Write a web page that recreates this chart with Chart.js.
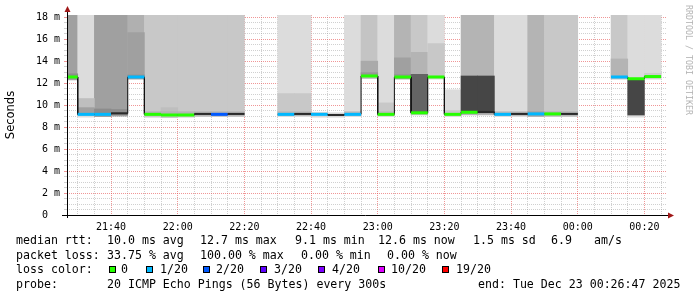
<!DOCTYPE html>
<html>
<head>
<meta charset="UTF-8">
<title>SmokePing</title>
<style>
  body { margin: 0; background: #fff; }
  #wrap { position: relative; width: 697px; height: 297px; overflow: hidden; }
  #chart { position: absolute; left: 0; top: 0; }
  .t { position: absolute; font-family: "DejaVu Sans Mono", monospace; font-size: 11.6px; line-height: 14px; white-space: pre; color: #000; }
  .box { position: absolute; width: 7px; height: 7px; box-sizing: border-box; border: 1px solid #000; }
  #wm { position: absolute; left: 693px; top: 5px; transform: rotate(90deg); transform-origin: left top;
        font-family: "DejaVu Sans Mono", monospace; font-size: 8.3px; line-height: 8px; color: #b4b4b4; white-space: pre; }
</style>
<script src="https://cdn.jsdelivr.net/npm/chart.js/dist/chart.umd.min.js"></script>
</head>
<body>
<div id="wrap">
  <canvas id="chart" width="697" height="297"></canvas>
  <div id="wm">RRDTOOL / TOBI OETIKER</div>

  <div class="t" style="left:16px;top:233px">median rtt:</div>
  <div class="t" style="left:107px;top:233px">10.0 ms avg</div>
  <div class="t" style="left:200px;top:233px">12.7 ms max</div>
  <div class="t" style="left:295px;top:233px">9.1 ms min</div>
  <div class="t" style="left:378px;top:233px">12.6 ms now</div>
  <div class="t" style="left:473px;top:233px">1.5 ms sd</div>
  <div class="t" style="left:551px;top:233px">6.9</div>
  <div class="t" style="left:594px;top:233px">am/s</div>

  <div class="t" style="left:16px;top:248px">packet loss:</div>
  <div class="t" style="left:107px;top:248px">33.75 % avg</div>
  <div class="t" style="left:200px;top:248px">100.00 % max</div>
  <div class="t" style="left:301px;top:248px">0.00 % min</div>
  <div class="t" style="left:387px;top:248px">0.00 % now</div>

  <div class="t" style="left:16px;top:262px">loss color:</div>
  <div id="lossKey"></div>

  <div class="t" style="left:16px;top:277px">probe:</div>
  <div class="t" style="left:107px;top:277px">20 ICMP Echo Pings (56 Bytes) every 300s</div>
  <div class="t" style="left:478px;top:277px">end: Tue Dec 23 00:26:47 2025</div>
</div>

<script>
  // ---- data (values in ms) ----
  // each 5 minute step, by its start time
  const stepStart = ['21:25','21:30','21:35','21:40','21:45','21:50','21:55','22:00','22:05','22:10',
                     '22:15','22:20','22:25','22:30','22:35','22:40','22:45','22:50','22:55','23:00',
                     '23:05','23:10','23:15','23:20','23:25','23:30','23:35','23:40','23:45','23:50',
                     '23:55','00:00','00:05','00:10','00:15','00:20','00:25'];

  // median rtt per step (null = no data)
  const medianRtt = [12.56, 9.16, 9.16, 9.25, 12.56, 9.16, 9.10, 9.10, 9.20, 9.16,
                     9.20, null, null, 9.16, 9.20, 9.16, 9.10, 9.16, 12.65, 9.16,
                     12.56, 9.30, 12.56, 9.16, 9.35, 9.38, 9.16, 9.20, 9.20, 9.20,
                     9.20, null, null, 12.56, 12.40, 12.60, null];

  // lost pings out of 20 per step (-1 = median drawn dark grey)
  const lostPings = [0, 1, 1, -1, 1, 0, 0, 0, -1, 2,
                     -1, null, null, 1, -1, 1, -1, 1, 0, 0,
                     0, 0, 0, 0, 0, -1, 1, -1, 1, 0,
                     -1, null, null, 1, 0, 0, null];

  // smoke: outer, middle and core bands [low, high]; 19 = above the top of the graph
  const smokeOuter = [[12.30,19],[8.90,19],[8.95,19],[9.00,19],[12.35,19],[8.90,19],[8.85,19],[8.90,19],[8.95,19],[8.95,19],
                      [8.95,19],null,null,[8.95,19],[8.95,19],[8.90,9.35],[8.90,9.30],[8.95,19],[12.40,19],[8.95,19],
                      [12.35,19],[9.10,19],[12.35,19],[8.95,11.40],[9.10,19],[9.10,19],[8.95,19],[8.95,19],[8.95,19],[8.95,19],
                      [8.95,19],null,null,[12.35,19],[8.90,19],[12.35,19],null];
  const shadeOuter = [160,220,160,160,176,200,200,200,200,200,
                      200,null,null,220,220,215,215,220,196,220,
                      180,200,220,220,180,180,220,220,180,200,
                      200,null,null,200,220,220,null];

  const smokeMiddle = [null,[9.10,10.60],null,null,[12.40,16.60],null,[9.05,9.77],null,null,null,
                       null,null,null,[9.05,11.05],[9.05,11.05],null,null,null,[12.55,14.00],[9.05,10.20],
                       [12.45,14.30],[9.20,14.80],[12.45,15.60],[9.05,9.50],null,null,null,null,null,null,
                       null,null,null,[12.45,14.20],null,[12.45,12.90],null];
  const shadeMiddle = [null,190,null,null,160,null,190,null,null,null,
                       null,null,null,200,200,null,null,null,170,200,
                       160,180,200,200,null,null,null,null,null,null,
                       null,null,null,180,null,205,null];

  const smokeCore = [[12.45,12.85],[9.10,9.77],[9.10,9.65],[9.15,9.60],[12.45,12.75],[9.05,9.40],[9.05,9.40],[9.05,9.40],[9.05,9.40],[9.05,9.40],
                     [9.05,9.40],null,null,[9.05,9.40],[9.05,9.40],null,null,[9.05,9.40],[12.60,12.95],[9.05,9.40],
                     [12.45,12.80],[9.25,12.80],null,null,[9.30,12.65],[9.30,12.65],[9.05,9.40],[9.05,9.40],[9.05,9.40],[9.05,9.40],
                     [9.05,9.40],null,null,null,[9.10,12.30],null,null];
  const shadeCore = [140,160,140,140,145,180,180,180,180,180,
                     180,null,null,185,185,null,null,185,150,185,
                     150,100,null,null,70,70,185,185,160,180,
                     180,null,null,null,70,null,null];

  const yTicks = [0, 2, 4, 6, 8, 10, 12, 14, 16, 18];
  const lossKey = [[0, '0'], [1, '1/20'], [2, '2/20'], [3, '3/20'], [4, '4/20'], [10, '10/20'], [19, '19/20']];
  const lossColors = {0: '#26ff00', 1: '#00b8ff', 2: '#0059ff', 3: '#5e00ff', 4: '#7e00ff', 10: '#dd00ff', 19: '#ff0000', '-1': '#2a2a2a'};

  // graph shows 3 hours ending 00:26:47
  const viewEnd = 206.783;
  const viewStart = viewEnd - 180;

  // ---- helpers ----
  function minutes(s) { // minutes after 21:00
    const [h, m] = s.split(':').map(Number);
    return (h < 12 ? h + 24 : h) * 60 + m - 21 * 60;
  }
  const pad = n => String(n).padStart(2, '0');
  function clock(v) {
    const t = v + 21 * 60;
    return pad(Math.floor(t / 60) % 24) + ':' + pad(t % 60);
  }
  const grey = g => 'rgb(' + g + ',' + g + ',' + g + ')';

  function bandSet(ranges, shades, order) {
    const data = [], colors = [];
    ranges.forEach((r, i) => {
      if (!r) return;
      data.push({x: minutes(stepStart[i]) + 2.5, y: r});
      colors.push(grey(shades[i]));
    });
    return {type: 'bar', order, data, backgroundColor: colors, grouped: false,
            barPercentage: 1, categoryPercentage: 1, borderWidth: 0};
  }

  // median as flat steps with breaks where no data
  const medianPts = [];
  medianRtt.forEach((m, i) => {
    if (m == null) return;
    const t = minutes(stepStart[i]);
    medianPts.push({x: t, y: m, k: i}, {x: t + 5, y: m, k: i});
    if (medianRtt[i + 1] == null) medianPts.push({x: t + 5, y: null});
  });

  // loss colour key under the graph
  const boxX = [109, 146, 203, 260, 318, 378, 442];
  const textX = [121, 160, 216, 274, 332, 391, 456];
  const key = document.getElementById('lossKey');
  lossKey.forEach(([n, label], i) => {
    key.insertAdjacentHTML('beforeend',
      '<div class="box" style="left:' + boxX[i] + 'px;top:266px;background:' + lossColors[n] + '"></div>' +
      '<div class="t" style="left:' + textX[i] + 'px;top:262px">' + label + '</div>');
  });

  const axisArrows = {
    id: 'axisArrows',
    afterDraw(chart) {
      const {ctx, chartArea: a} = chart;
      ctx.save();
      ctx.strokeStyle = '#000';
      ctx.lineWidth = 1;
      ctx.beginPath();
      ctx.moveTo(62, a.bottom + 0.5);
      ctx.lineTo(a.right + 2, a.bottom + 0.5);
      ctx.moveTo(a.left + 0.5, a.bottom + 3);
      ctx.lineTo(a.left + 0.5, a.top - 4);
      ctx.stroke();
      ctx.fillStyle = '#a01818';
      ctx.beginPath();
      ctx.moveTo(a.right + 7, a.bottom + 0.5);
      ctx.lineTo(a.right + 1, a.bottom - 2.5);
      ctx.lineTo(a.right + 1, a.bottom + 3.5);
      ctx.closePath();
      ctx.fill();
      ctx.beginPath();
      ctx.moveTo(a.left + 0.5, a.top - 9);
      ctx.lineTo(a.left - 2.5, a.top - 3);
      ctx.lineTo(a.left + 3.5, a.top - 3);
      ctx.closePath();
      ctx.fill();
      ctx.restore();
    }
  };

  const minorGrid = 'rgba(150,150,150,0.45)';
  const majorGrid = 'rgba(230,80,80,0.6)';

  new Chart(document.getElementById('chart'), {
    type: 'bar',
    data: {
      datasets: [
        {
          type: 'line', order: 0, data: medianPts, pointRadius: 0, spanGaps: false,
          borderWidth: 3, borderCapStyle: 'butt',
          segment: {
            borderColor: c => medianPts[c.p0DataIndex].x === medianPts[c.p1DataIndex].x
              ? 'rgba(0,0,0,0)' : lossColors[lostPings[medianPts[c.p0DataIndex].k]],
            borderWidth: c => lostPings[medianPts[c.p0DataIndex].k] === -1 ? 2 : 3
          }
        },
        {type: 'line', order: 1, data: medianPts, pointRadius: 0, spanGaps: false,
         borderWidth: 1, borderColor: '#111'},
        bandSet(smokeCore, shadeCore, 2),
        bandSet(smokeMiddle, shadeMiddle, 3),
        bandSet(smokeOuter, shadeOuter, 4)
      ]
    },
    options: {
      responsive: false,
      animation: false,
      layout: {padding: {top: 15, right: 30, left: 0, bottom: 0}},
      plugins: {legend: {display: false}, tooltip: {enabled: false}},
      scales: {
        x: {
          type: 'linear', min: viewStart, max: viewEnd, offset: false, z: 1,
          afterBuildTicks: s => {
            const t = [];
            for (let v = 30; v < viewEnd; v += 5) t.push({value: v});
            s.ticks = t;
          },
          afterFit: s => { s.height = 82; },
          grid: {offset: false, drawTicks: false, lineWidth: 1,
                 color: c => c.tick && c.tick.value % 20 === 0 ? majorGrid : minorGrid},
          border: {display: false, dash: [1, 1]},
          ticks: {
            autoSkip: false, maxRotation: 0, padding: 6, color: '#000',
            font: {family: 'DejaVu Sans Mono', size: 10},
            callback: v => v % 20 === 0 ? clock(v) : ''
          }
        },
        y: {
          min: 0, max: 18.2, z: 1,
          afterBuildTicks: s => {
            const t = [];
            for (let v = 0; v <= 18; v += 0.5) t.push({value: v});
            s.ticks = t;
          },
          afterFit: s => { s.width = 67; },
          grid: {tickLength: 3, lineWidth: 1,
                 color: c => !c.tick || c.tick.value === 0 ? 'rgba(0,0,0,0)'
                   : (yTicks.includes(c.tick.value) ? majorGrid : minorGrid)},
          border: {display: false, dash: [1, 1]},
          title: {display: true, text: 'Seconds', color: '#000',
                  font: {family: 'DejaVu Sans', size: 11.5}, padding: {top: 4, bottom: 0}},
          ticks: {
            autoSkip: false, padding: 4, color: '#000',
            font: {family: 'DejaVu Sans Mono', size: 10},
            callback: v => yTicks.includes(v) ? (v === 0 ? '0  ' : v + ' m') : ''
          }
        }
      }
    },
    plugins: [axisArrows]
  });
</script>
</body>
</html>
